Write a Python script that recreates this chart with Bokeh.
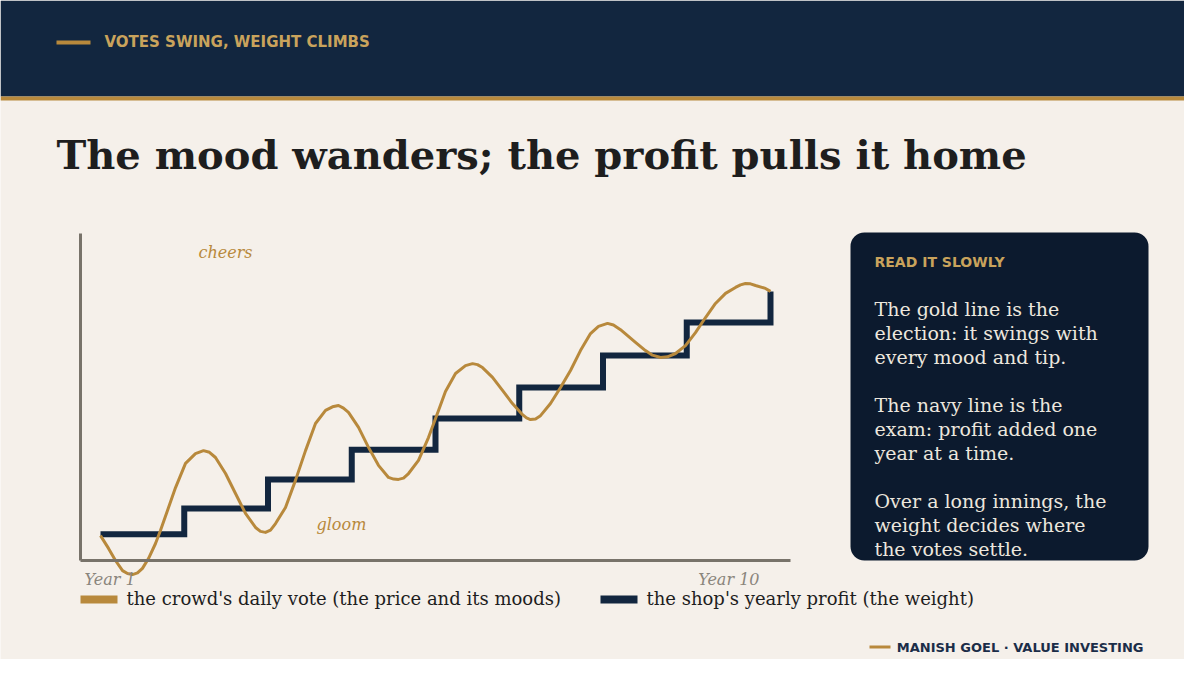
from bokeh.plotting import figure
from bokeh.models import Label, BoxAnnotation, LinearAxis, FixedTicker, Range1d
from bokeh.embed import file_html
from bokeh.resources import INLINE

# ---------------- data ----------------
profit_years = [1, 2, 3, 4, 5, 6, 7, 8, 9]
profit_values = [8.0, 15.9, 24.8, 33.9, 43.4, 52.9, 62.7, 72.8, 82.3]

price_t = [1.000, 1.096, 1.179, 1.263, 1.322, 1.382, 1.442, 1.501, 1.573, 1.657,
           1.716, 1.800, 1.896, 2.015, 2.134, 2.230, 2.301, 2.373, 2.493, 2.612,
           2.731, 2.851, 2.910, 2.970, 3.030, 3.090, 3.209, 3.328, 3.448, 3.567,
           3.687, 3.770, 3.842, 3.901, 3.961, 4.081, 4.200, 4.319, 4.439, 4.499,
           4.558, 4.618, 4.678, 4.797, 4.916, 5.036, 5.119, 5.239, 5.358, 5.442,
           5.501, 5.561, 5.681, 5.800, 5.919, 6.039, 6.087, 6.134, 6.194, 6.254,
           6.373, 6.493, 6.612, 6.731, 6.851, 6.946, 7.054, 7.125, 7.209, 7.388,
           7.507, 7.591, 7.687, 7.770, 7.866, 7.985, 8.104, 8.224, 8.343, 8.463,
           8.582, 8.642, 8.701, 8.761, 8.821, 8.940, 9.000]
price_values = [7.6, 3.7, 0.0, -3.1, -4.0, -4.3, -3.8, -2.4, 0.6, 5.2,
                9.2, 15.3, 22.3, 29.7, 32.7, 33.6, 33.1, 31.5, 26.6, 20.5,
                14.4, 10.1, 8.9, 8.6, 9.3, 11.3, 16.2, 24.5, 33.6, 41.9,
                45.9, 47.0, 47.4, 46.6, 45.3, 40.7, 34.6, 29.1, 25.4, 24.9,
                24.8, 25.2, 26.6, 30.6, 37.6, 45.9, 51.7, 57.2, 59.6, 60.2,
                59.9, 59.0, 56.0, 52.0, 48.0, 44.6, 43.6, 43.1, 43.3, 44.3,
                48.0, 52.9, 58.1, 64.2, 69.4, 71.6, 72.5, 72.0, 70.6, 66.7,
                64.2, 62.8, 62.1, 62.3, 63.3, 65.7, 69.7, 74.3, 78.6, 81.7,
                83.5, 84.3, 84.7, 84.6, 84.1, 83.2, 82.3]

axis_labels = ["Year 1", "Year 10"]
mood_labels = ["cheers", "gloom"]
legend_labels = ["the crowd's daily vote (the price and its moods)",
                 "the shop's yearly profit (the weight)"]
kicker = "VOTES SWING, WEIGHT CLIMBS"
title = "The mood wanders; the profit pulls it home"
panel_heading = "READ IT SLOWLY"
panel_lines = ["The gold line is the", "election: it swings with", "every mood and tip.",
               "", "The navy line is the", "exam: profit added one", "year at a time.",
               "", "Over a long innings, the", "weight decides where", "the votes settle."]
footer = "MANISH GOEL  \u00b7  VALUE INVESTING"

# ---------------- style ----------------
CREAM = "#f5f0ea"
NAVY = "#12263f"
PANEL = "#0c1a2e"
GOLD = "#b8893c"
GOLD_TXT = "#c9a35c"
INK = "#1e1e1e"
GREY = "#78736a"
GREY_TXT = "#8a857c"
PANEL_TXT = "#ece7de"
SERIF = "DejaVu Serif"
SANS = "DejaVu Sans"

W, H = 1184, 659

# page-pixel frame (y grows downward) plus data ranges for the chart
p = figure(width=W, height=H, x_range=Range1d(0, W), y_range=Range1d(H, 0),
           toolbar_location=None, output_backend="svg", x_axis_type=None,
           y_axis_type=None, min_border=0, outline_line_color=None,
           background_fill_color=CREAM, border_fill_color=CREAM)
# chart area: year 1 -> x=100px, 83.75px per year; value 0 -> y=560px, 3.27px per unit
p.extra_x_ranges = {"yr": Range1d(1 + (0 - 100) / 83.75, 1 + (W - 100) / 83.75)}
p.extra_y_ranges = {"val": Range1d((560 - H) / 3.27, 560 / 3.27)}


def lab(x, y, text, font=SERIF, size="16px", color=INK, style="normal",
        align="left", baseline="middle"):
    p.add_layout(Label(x=x, y=y, text=text, text_font=font, text_font_size=size,
                       text_color=color, text_font_style=style, text_align=align,
                       text_baseline=baseline))


# ---------------- header band + title ----------------
p.quad(left=[0], right=[W], top=[0], bottom=[96], fill_color=NAVY, line_color=None)
p.quad(left=[0], right=[W], top=[96], bottom=[100], fill_color=GOLD, line_color=None)
p.quad(left=[56], right=[90], top=[40], bottom=[44], fill_color=GOLD, line_color=None)
lab(104, 41, kicker, font=SANS, size="15px", color=GOLD_TXT, style="bold")
lab(56, 154, title, font=SERIF, size="40px", color=INK, style="bold", baseline="alphabetic")

# ---------------- chart ----------------
x0 = 1 + (80 - 100) / 83.75
x1 = 1 + (790 - 100) / 83.75
xaxis = LinearAxis(x_range_name="yr", y_range_name="val", fixed_location=0,
                   bounds=(x0, x1), ticker=FixedTicker(ticks=[]),
                   axis_line_color=GREY, axis_line_width=3, major_tick_line_color=None,
                   minor_tick_line_color=None, major_label_text_font_size="0px")
yaxis = LinearAxis(x_range_name="yr", y_range_name="val", fixed_location=x0,
                   bounds=(0, 100), ticker=FixedTicker(ticks=[]),
                   axis_line_color=GREY, axis_line_width=3, major_tick_line_color=None,
                   minor_tick_line_color=None, major_label_text_font_size="0px")
p.add_layout(xaxis, "below")
p.add_layout(yaxis, "left")

p.step(profit_years, profit_values, mode="after", line_color=NAVY, line_width=6,
       line_join="miter", x_range_name="yr", y_range_name="val")
p.line(price_t, price_values, line_color=GOLD, line_width=3, line_join="round",
       x_range_name="yr", y_range_name="val")

lab(84, 579, axis_labels[0], size="16px", color=GREY_TXT, style="italic")
lab(759, 579, axis_labels[1], size="16px", color=GREY_TXT, style="italic", align="right")
lab(198, 252, mood_labels[0], size="16px", color=GOLD, style="italic")
lab(316, 524, mood_labels[1], size="16px", color=GOLD, style="italic")

# ---------------- side panel ----------------
p.add_layout(BoxAnnotation(left=850, right=1148, top=232, bottom=560,
                           fill_color=PANEL, fill_alpha=1.0, line_color=None,
                           border_radius=14))
lab(874, 261, panel_heading, font=SANS, size="14px", color=GOLD_TXT, style="bold")
p.quad(left=[874], right=[927], top=[280], bottom=[284], fill_color=GOLD, line_color=None)
for i, line in enumerate(panel_lines):
    if line:
        lab(874, 308 + 24 * i, line, size="19px", color=PANEL_TXT)

# ---------------- legend + footer ----------------
p.quad(left=[80], right=[117], top=[595], bottom=[603], fill_color=GOLD, line_color=None)
lab(126, 598, legend_labels[0], size="18px", color=INK)
p.quad(left=[600], right=[637], top=[595], bottom=[603], fill_color=NAVY, line_color=None)
lab(646, 598, legend_labels[1], size="18px", color=INK)
p.quad(left=[869], right=[890], top=[645], bottom=[648], fill_color=GOLD, line_color=None)
lab(1152, 647, footer, font=SANS, size="13px", color="#1b2d48", style="bold", align="right")

open("out.html", "w").write(file_html(p, INLINE))
